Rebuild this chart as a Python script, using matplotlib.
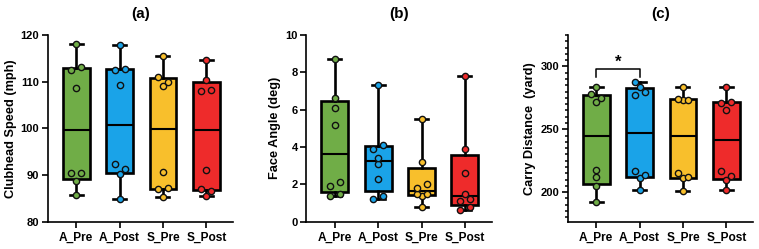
import numpy as np
import matplotlib
matplotlib.use("Agg")
import matplotlib.pyplot as plt
from matplotlib import cbook
from matplotlib.ticker import MultipleLocator

plt.rcParams['font.family'] = ['Liberation Sans', 'DejaVu Sans']
plt.rcParams['font.weight'] = 'bold'

groups = ["A_Pre", "A_Post", "S_Pre", "S_Post"]
colors = ["#70AD47", "#1AA3E8", "#F8BF2C", "#EE2B2B"]

speed_a_pre = [85.8, 88.7, 90.5, 90.5, 108.7, 112.4, 113.2, 118.0]
speed_a_post = [84.9, 90.3, 91.2, 92.3, 109.3, 112.6, 112.8, 117.8]
speed_s_pre = [85.3, 87.0, 87.2, 90.7, 109.0, 110.0, 111.0, 115.4]
speed_s_post = [85.5, 86.6, 87.0, 91.0, 108.1, 108.2, 110.4, 114.6]

angle_a_pre = [1.4, 1.5, 1.9, 2.1, 5.2, 6.1, 6.6, 8.7]
angle_a_post = [1.2, 1.4, 2.3, 3.1, 3.4, 3.9, 4.1, 7.3]
angle_s_pre = [0.8, 1.4, 1.5, 1.5, 1.8, 2.0, 3.2, 5.5]
angle_s_post = [0.6, 0.8, 1.1, 1.2, 1.5, 2.6, 3.9, 7.8]

carry_a_pre = [192.4, 205.0, 212.4, 217.7, 271.6, 275.0, 278.0, 284.0]
carry_a_post = [202.0, 211.0, 214.0, 217.0, 277.5, 280.0, 284.0, 288.0]
carry_s_pre = [201.0, 211.5, 212.0, 215.6, 273.0, 273.5, 274.0, 284.0]
carry_s_post = [201.5, 209.5, 213.0, 217.0, 265.5, 271.0, 271.5, 283.5]

panels = [
    dict(title="(a)", ylabel="Clubhead Speed (mph)", ylim=(80, 120), major=10, minor=None,
         data=[speed_a_pre, speed_a_post, speed_s_pre, speed_s_post]),
    dict(title="(b)", ylabel="Face Angle (deg)", ylim=(0, 10), major=2, minor=None,
         data=[angle_a_pre, angle_a_post, angle_s_pre, angle_s_post]),
    dict(title="(c)", ylabel="Carry Distance  (yard)", ylim=(176.5, 325), major=50, minor=5,
         data=[carry_a_pre, carry_a_post, carry_s_pre, carry_s_post]),
]

W, H = 759, 249
fig = plt.figure(figsize=(W / 100, H / 100), dpi=100)
lefts = [47.7, 306.3, 567.7]
ax_w, ax_h, ax_b = 185.5, 186.7, 27.3
XLIM = (0.34, 4.62)


def cluster_offsets(vals, ypx, step, diam):
    vals = np.asarray(vals, float)
    order = np.argsort(vals, kind="stable")
    offs = np.zeros(len(vals))
    clusters = []
    cur = [order[0]]
    for a, b in zip(order[:-1], order[1:]):
        if (vals[b] - vals[a]) * ypx < diam:
            cur.append(b)
        else:
            clusters.append(cur)
            cur = [b]
    clusters.append(cur)
    for c in clusters:
        k = len(c)
        if k == 1:
            pattern = [0]
        elif k == 2:
            pattern = [-1, 1]
        elif k == 3:
            pattern = [0, 1, -1]
        else:
            pattern = [[-1, 1, 0][i % 3] for i in range(k)]
        for idx, p in zip(c, pattern):
            offs[idx] = p * step
    return offs


for i, p in enumerate(panels):
    ax = fig.add_axes([lefts[i] / W, ax_b / H, ax_w / W, ax_h / H])
    ax.set_xlim(*XLIM)
    ax.set_ylim(*p["ylim"])
    positions = np.arange(1, len(groups) + 1)
    stats = []
    for d in p["data"]:
        s = cbook.boxplot_stats(np.asarray(d), whis=(0, 100))[0]
        q1, med, q3 = np.percentile(d, [25, 50, 75], method="weibull")
        s["q1"], s["med"], s["q3"] = q1, med, q3
        stats.append(s)
    bp = ax.bxp(stats, positions=positions, widths=0.62, patch_artist=True,
                showfliers=False, capwidths=0.3,
                boxprops=dict(linewidth=1.9, edgecolor="black"),
                whiskerprops=dict(linewidth=1.9, color="black"),
                capprops=dict(linewidth=1.9, color="black"),
                medianprops=dict(linewidth=1.5, color="black"))
    for patch, c in zip(bp["boxes"], colors):
        patch.set_facecolor(c)
    xpx = ax_w / (XLIM[1] - XLIM[0])
    ypx = ax_h / (p["ylim"][1] - p["ylim"][0])
    for pos, d, c in zip(positions, p["data"], colors):
        offs = cluster_offsets(d, ypx, 5.0 / xpx, 5.5)
        ax.plot(pos + offs, d, "o", ms=4.5, mfc=c, mec="#111111", mew=1.0,
                linestyle="none", zorder=5)
    ax.set_xticks(positions)
    ax.set_xticklabels(groups, fontsize=8.6, fontweight="bold")
    ax.yaxis.set_major_locator(MultipleLocator(p["major"]))
    if p["minor"]:
        ax.yaxis.set_minor_locator(MultipleLocator(p["minor"]))
        ax.tick_params(axis="y", which="minor", length=2.5, width=1.1)
    for lab in ax.get_yticklabels():
        lab.set_fontsize(8.0)
        lab.set_fontweight("bold")
    ax.tick_params(axis="both", which="major", length=4, width=1.2, pad=2)
    ax.tick_params(axis="x", pad=3)
    for sp in ["top", "right"]:
        ax.spines[sp].set_visible(False)
    for sp in ["left", "bottom"]:
        ax.spines[sp].set_linewidth(1.2)
    ax.set_ylabel(p["ylabel"], fontsize=9.2, fontweight="bold", labelpad=3)
    ax.set_title(p["title"], fontsize=11, fontweight="bold", pad=12)
    if i == 2:
        ax.plot([1, 1, 2, 2], [291.5, 298, 298, 291.5], color="black", lw=1.1)
        ax.text(1.5, 303.5, "*", ha="center", va="center", fontsize=12, fontweight="bold")

fig.savefig("out.png", dpi=100)
